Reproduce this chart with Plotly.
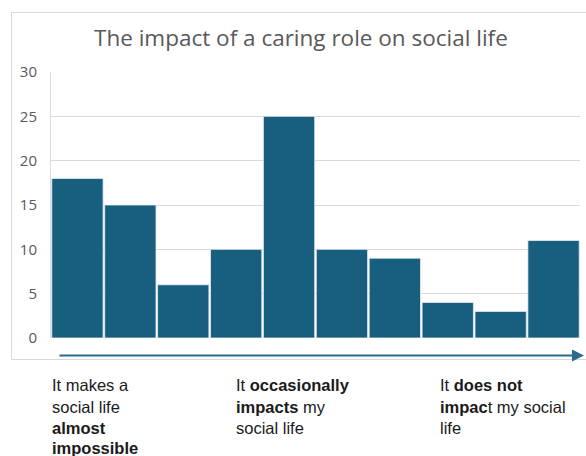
import plotly.graph_objects as go

# Survey responses: how much a caring role impacts social life (scale of 10 steps)
scale_steps = [1, 2, 3, 4, 5, 6, 7, 8, 9, 10]
respondents = [18, 15, 6, 10, 25, 10, 9, 4, 3, 11]

y_ticks = [0, 5, 10, 15, 20, 25, 30]

title_text = "The impact of a caring role on social life"

# Scale descriptions shown under the axis arrow (one list of lines per anchor)
scale_labels = [
    ["It makes a", "social life", "<b>almost</b>", "<b>impossible</b>"],
    ["It <b>occasionally</b>", "<b>impacts</b> my", "social life"],
    ["It <b>does not</b>", "<b>impac</b>t my social", "life"],
]

W, H = 586, 456
L, R, T, B = 51, 6, 72, 118
PW, PH = W - L - R, H - T - B


def px(x):
    return (x - L) / PW


def py(y):
    return (H - B - y) / PH


BAR = "#185e7f"
GRID = "#d9d9d9"
TICK = "#595959"

fig = go.Figure()
fig.add_trace(go.Bar(
    x=scale_steps,
    y=respondents,
    marker=dict(color=BAR, line=dict(color="#e8eef2", width=0.8)),
    hoverinfo="y",
))

fig.update_layout(
    width=W, height=H,
    margin=dict(l=L, r=R, t=T, b=B, pad=0),
    paper_bgcolor="white",
    plot_bgcolor="white",
    bargap=0.03,
    showlegend=False,
    font=dict(family="Open Sans", color=TICK),
    xaxis=dict(
        range=[0.5, 10.5],
        showticklabels=False,
        showgrid=False,
        zeroline=False,
        showline=False,
        ticks="",
        fixedrange=True,
    ),
    yaxis=dict(
        range=[0, 30],
        tickvals=y_ticks,
        showgrid=True,
        gridcolor=GRID,
        gridwidth=1,
        zeroline=False,
        showline=True,
        linecolor=GRID,
        linewidth=1,
        ticks="",
        ticklabelstandoff=10,
        tickfont=dict(family="Open Sans", size=15, color=TICK),
        fixedrange=True,
    ),
)

# Outer chart frame
fig.add_shape(
    type="rect", xref="paper", yref="paper",
    x0=px(11.5), x1=px(600), y0=py(359.5), y1=py(12.5),
    line=dict(color="#d9d9d9", width=1), fillcolor="rgba(0,0,0,0)",
    layer="below",
)

# Title
fig.add_annotation(
    text=title_text, xref="paper", yref="paper",
    x=px(301), y=py(38), xanchor="center", yanchor="middle",
    showarrow=False,
    font=dict(family="Open Sans", size=22.5, color="#595959"),
)

# Direction arrow under the bars
fig.add_annotation(
    text="", xref="paper", yref="paper", axref="pixel", ayref="pixel",
    x=px(584), y=py(355.5), ax=-(584 - 58), ay=0,
    showarrow=True, arrowhead=2, arrowsize=1.2, arrowwidth=2,
    arrowcolor="#2a6b8b",
)

# Scale descriptions
label_x = [50, 234, 438]
line_y = [385, 407, 428, 448]
for lx, lines in zip(label_x, scale_labels):
    for i, line in enumerate(lines):
        fig.add_annotation(
            text=line, xref="paper", yref="paper",
            x=px(lx), y=py(line_y[i]), xanchor="left", yanchor="middle",
            showarrow=False,
            font=dict(family="Liberation Sans", size=16.5, color="#1a1a1a"),
        )

fig.write_html("out.html")
